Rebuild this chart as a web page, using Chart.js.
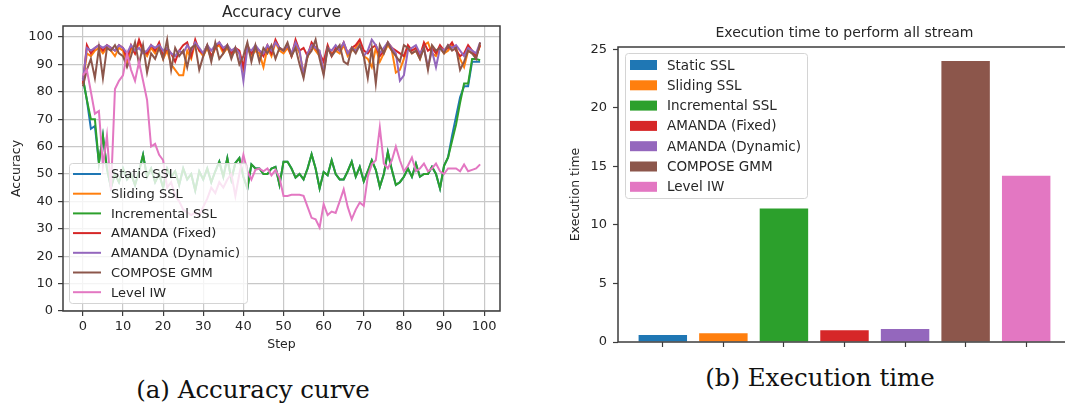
<!DOCTYPE html>
<html>
<head>
<meta charset="utf-8">
<script src="https://cdn.jsdelivr.net/npm/chart.js@4.4.1/dist/chart.umd.min.js"></script>
<style>
  html, body { margin: 0; padding: 0; background: #fff; width: 1065px; height: 410px; overflow: hidden; }
  #accWrap { position: absolute; left: 0; top: 0; width: 530px; height: 360px; }
  #timeWrap { position: absolute; left: 530px; top: 0; width: 560px; height: 360px; }
  .caption { position: absolute; width: 400px; text-align: center; white-space: nowrap;
             font-family: 'DejaVu Serif', serif; font-size: 24.5px; line-height: 26px; color: #111; }
</style>
</head>
<body>
<div id="accWrap"><canvas id="accChart" width="530" height="360"></canvas></div>
<div id="timeWrap"><canvas id="timeChart" width="560" height="360"></canvas></div>
<div class="caption" style="left:53px; top:377px;">(a) Accuracy curve</div>
<div class="caption" style="left:620px; top:365px;">(b) Execution time</div>
<script>
(function () {
  'use strict';

  var methods = ['Static SSL', 'Sliding SSL', 'Incremental SSL', 'AMANDA (Fixed)', 'AMANDA (Dynamic)', 'COMPOSE GMM', 'Level IW'];
  var colors = ['#1f77b4', '#ff7f0e', '#2ca02c', '#d62728', '#9467bd', '#8c564b', '#e377c2'];

  var staticSSL = [
    85, 77, 66.5, 67.5, 54, 64, 52, 45, 50, 47,
    52, 48, 50, 46, 51, 57, 49, 52, 47, 50,
    45, 52, 49, 51, 46, 52, 48, 50, 44, 51,
    48, 52, 47, 51, 54.5, 49, 55.8, 48, 54, 55.8,
    49, 44.7, 53.5, 52, 52, 50, 50, 52, 52.6, 46,
    54.5, 54.5, 52, 48.7, 50, 48, 52, 57.2, 52, 44.7,
    50.7, 49.5, 55, 50, 48, 48, 51, 54.5, 49, 52.6,
    47.3, 51, 55, 51.5, 45.3, 50, 58, 51.5, 46, 47,
    49, 52, 49, 53.8, 49, 50, 50, 52.6, 50, 44.7,
    53, 56, 64, 71, 78, 82, 82, 91, 91, 91
  ];
  var slidingSSL = [
    83, 94, 93, 95, 96, 94, 96, 95, 93, 96,
    95, 90, 96, 94, 98, 95, 93, 96, 94, 97,
    92, 95, 90, 88, 86, 86, 95, 92, 98, 95,
    93, 96, 92, 96, 97, 94, 96, 93, 95, 94,
    88, 96, 93, 95, 94, 89, 96, 93, 98, 95,
    94, 96, 93, 97, 94, 87, 93, 97, 95, 93,
    88, 96, 94, 95, 94, 97, 93, 95, 96, 98,
    93, 92, 89, 96, 91, 94, 97, 95, 87, 88,
    92, 96, 94, 95, 92, 97, 98, 94, 93, 96,
    94, 95, 97, 96, 92, 89, 95, 94, 93, 97
  ];
  var incrementalSSL = [
    85, 77, 70, 70, 54, 64, 52, 45, 50, 47,
    52, 48, 50, 46, 51, 57, 49, 52, 47, 50,
    45, 52, 49, 51, 46, 52, 48, 50, 44, 51,
    48, 52, 47, 51, 54.5, 49, 55.8, 48, 54, 55.8,
    49, 44.7, 53.5, 52, 52, 50, 50, 52, 52.6, 46,
    54.5, 54.5, 52, 48.7, 50, 48, 52, 57.2, 52, 44.7,
    50.7, 49.5, 55, 50, 48, 48, 51, 54.5, 49, 52.6,
    47.3, 51, 55, 51.5, 45.3, 50, 58, 51.5, 46, 47,
    49, 52, 49, 53.8, 49, 50, 50, 52.6, 50, 44.7,
    53, 56, 62, 68, 76, 83, 83, 92, 92, 91.5
  ];
  var amandaFixed = [
    83, 97, 94, 96, 97, 95, 97, 96, 95, 97,
    96, 92, 97, 94, 99, 95, 94, 97, 95, 98,
    93, 96, 94, 91, 95, 97, 98, 93, 99, 95,
    94, 97, 93, 96, 98, 95, 97, 94, 96, 95,
    89, 97, 94, 96, 95, 93, 97, 94, 99, 96,
    95, 97, 93, 99, 95, 96, 93, 98, 96, 94,
    91, 97, 93, 96, 95, 98, 94, 96, 97, 99,
    95, 94, 96, 97, 93, 95, 98, 96, 95, 94,
    93, 97, 95, 96, 93, 98, 95, 96, 94, 97,
    95, 96, 98, 95, 93, 94, 97, 95, 93, 97
  ];
  var amandaDynamic = [
    84, 96, 95, 96, 97, 96, 97, 96, 95, 97,
    96, 94, 97, 95, 96, 94, 95, 97, 96, 97,
    95, 96, 94, 93, 95, 94, 97, 95, 98, 96,
    94, 97, 95, 97, 98, 96, 97, 95, 96, 94,
    84, 96, 95, 97, 95, 94, 97, 95, 98, 96,
    95, 97, 94, 98, 95, 86, 94, 97, 96, 95,
    87, 96, 95, 97, 95, 98, 94, 96, 95, 97,
    93, 95, 99, 97, 94, 96, 98, 96, 94, 84,
    86, 95, 96, 97, 94, 96, 89, 95, 89, 96,
    95, 97, 96, 97, 95, 93, 96, 95, 94, 98
  ];
  var composeGMM = [
    82, 88, 92, 85, 96, 85, 96, 95, 97, 94,
    93, 89, 93, 98, 90, 97, 87, 94, 92, 96,
    92, 99, 88, 96, 93, 95, 89, 96, 97, 88,
    93, 97, 91, 98, 92, 94, 97, 92, 96, 90,
    93, 98, 91, 97, 91, 96, 94, 97, 92, 96,
    95, 98, 93, 96, 90, 85, 93, 95, 99, 92,
    86, 96, 93, 95, 97, 91, 90, 96, 94, 97,
    93, 85, 96, 83, 97, 94, 98, 95, 93, 91,
    97, 96, 94, 95, 92, 96, 88, 97, 95, 96,
    94, 97, 95, 96, 88, 91, 95, 94, 92, 98
  ];
  var levelIW = [
    86, 88, 80, 72, 73, 53, 64, 44, 81, 84,
    86, 94, 88, 84, 91, 84, 77, 60, 61, 57,
    55, 45, 47, 42, 40, 37, 36, 35, 36, 35,
    38, 41, 45, 43, 47, 45, 48, 50, 42, 50,
    57, 51, 48, 51.5, 52, 51, 52, 49.5, 51.5, 48.7,
    42, 42, 42.4, 42.4, 42.4, 42, 38, 34, 33.5, 30.5,
    39, 35, 36.3, 35.8, 40, 44.4, 38, 33.5, 37, 39.6,
    38.4, 49, 53.5, 55, 67, 53.8, 52, 55, 60, 55,
    51, 53, 56, 51, 52, 53.8, 51, 52, 53.8, 51,
    50, 52, 52, 52, 51, 53.5, 51, 51.5, 52, 53.5
  ];

  var execTime = [0.6, 0.75, 11.4, 1.0, 1.1, 24.0, 14.2];

  var accTicks = [0, 10, 20, 30, 40, 50, 60, 70, 80, 90, 100];
  var stepTicks = [0, 10, 20, 30, 40, 50, 60, 70, 80, 90, 100];
  var timeTicks = [0, 5, 10, 15, 20, 25];

  var series = [staticSSL, slidingSSL, incrementalSSL, amandaFixed, amandaDynamic, composeGMM, levelIW];

  var FONT = "'DejaVu Sans', sans-serif";
  var TEXT = '#262626';
  var SPINE = '#3c3c3c';

  function roundRect(ctx, x, y, w, h, r) {
    ctx.beginPath();
    ctx.moveTo(x + r, y);
    ctx.lineTo(x + w - r, y);
    ctx.arcTo(x + w, y, x + w, y + r, r);
    ctx.lineTo(x + w, y + h - r);
    ctx.arcTo(x + w, y + h, x + w - r, y + h, r);
    ctx.lineTo(x + r, y + h);
    ctx.arcTo(x, y + h, x, y + h - r, r);
    ctx.lineTo(x, y + r);
    ctx.arcTo(x, y, x + r, y, r);
    ctx.closePath();
  }

  // cadre, titres et légende façon matplotlib
  var decor = {
    id: 'decor',
    afterDraw: function (chart, args, o) {
      var ctx = chart.ctx;
      var a = chart.chartArea;
      ctx.save();

      ctx.strokeStyle = SPINE;
      ctx.lineWidth = 1.5;
      ctx.strokeRect(a.left, a.top, a.right - a.left, a.bottom - a.top);

      ctx.fillStyle = TEXT;
      ctx.textAlign = 'center';
      ctx.textBaseline = 'middle';
      ctx.font = o.titleSize + 'px ' + FONT;
      ctx.fillText(o.title, (a.left + a.right) / 2, o.titleY);

      ctx.font = '12.5px ' + FONT;
      if (o.xLabel) ctx.fillText(o.xLabel, (a.left + a.right) / 2, o.xLabelY);
      ctx.save();
      ctx.translate(o.yLabelX, (a.top + a.bottom) / 2);
      ctx.rotate(-Math.PI / 2);
      ctx.fillText(o.yLabel, 0, 0);
      ctx.restore();

      var L = o.legend;
      roundRect(ctx, L.x + 0.5, L.y + 0.5, L.w, L.h, 3);
      ctx.fillStyle = 'rgba(255,255,255,0.8)';
      ctx.fill();
      ctx.strokeStyle = '#d4d4d4';
      ctx.lineWidth = 1;
      ctx.stroke();

      ctx.font = L.fontSize + 'px ' + FONT;
      ctx.textAlign = 'left';
      methods.forEach(function (name, i) {
        var cy = L.firstY + i * L.gap;
        if (L.kind === 'line') {
          ctx.strokeStyle = colors[i];
          ctx.lineWidth = 2;
          ctx.beginPath();
          ctx.moveTo(L.handleX, cy);
          ctx.lineTo(L.handleX + L.handleW, cy);
          ctx.stroke();
        } else {
          ctx.fillStyle = colors[i];
          ctx.fillRect(L.handleX, cy - 5, L.handleW, 10);
        }
        ctx.fillStyle = TEXT;
        ctx.fillText(name, L.textX, cy + 1);
      });

      ctx.restore();
    }
  };

  function fixedTicks(list) {
    return function (scale) {
      scale.ticks = list.map(function (v) { return { value: v }; });
    };
  }

  var steps = staticSSL.map(function (_, i) { return i; });

  new Chart(document.getElementById('accChart'), {
    type: 'line',
    plugins: [decor],
    data: {
      datasets: series.map(function (vals, i) {
        return {
          label: methods[i],
          data: vals.map(function (v, k) { return { x: steps[k], y: v }; }),
          borderColor: colors[i],
          backgroundColor: colors[i],
          borderWidth: 2,
          pointRadius: 0,
          tension: 0,
          order: series.length - 1 - i
        };
      })
    },
    options: {
      responsive: false,
      animation: false,
      events: [],
      layout: { padding: { left: 0, right: 30, top: 26, bottom: 0 } },
      plugins: {
        legend: { display: false },
        tooltip: { enabled: false },
        decor: {
          title: 'Accuracy curve', titleY: 13, titleSize: 15.5,
          xLabel: 'Step', xLabelY: 345,
          yLabel: 'Accuracy', yLabelX: 17,
          legend: { kind: 'line', x: 69, y: 163, w: 178, h: 140, firstY: 174, gap: 19.7,
                    handleX: 73, handleW: 28, textX: 111, fontSize: 13 }
        }
      },
      scales: {
        x: {
          type: 'linear', min: -4.95, max: 103.95,
          afterBuildTicks: fixedTicks(stepTicks),
          afterFit: function (s) { s.height = 49; s.paddingLeft = 0; s.paddingRight = 0; },
          border: { display: false },
          grid: { color: '#c8c8c8', lineWidth: 1.2, tickColor: SPINE, tickLength: 5, tickWidth: 1.2 },
          ticks: { color: TEXT, font: { family: FONT, size: 13 }, padding: 3, maxRotation: 0 }
        },
        y: {
          min: 0, max: 104,
          afterBuildTicks: fixedTicks(accTicks),
          afterFit: function (s) { s.width = 63; s.paddingTop = 0; s.paddingBottom = 0; },
          border: { display: false },
          grid: { color: '#c8c8c8', lineWidth: 1.2, tickColor: SPINE, tickLength: 5, tickWidth: 1.2 },
          ticks: { color: TEXT, font: { family: FONT, size: 13 }, padding: 5 }
        }
      }
    }
  });

  new Chart(document.getElementById('timeChart'), {
    type: 'bar',
    plugins: [decor],
    data: {
      datasets: [{
        label: 'Execution time',
        data: execTime.map(function (v, i) { return { x: i, y: v }; }),
        backgroundColor: colors,
        borderWidth: 0,
        categoryPercentage: 0.8,
        barPercentage: 1
      }]
    },
    options: {
      responsive: false,
      animation: false,
      events: [],
      layout: { padding: { left: 0, right: 19, top: 47, bottom: 0 } },
      plugins: {
        legend: { display: false },
        tooltip: { enabled: false },
        decor: {
          title: 'Execution time to perform all stream', titleY: 33, titleSize: 14,
          xLabel: '', xLabelY: 0,
          yLabel: 'Execution time', yLabelX: 46,
          legend: { kind: 'patch', x: 95, y: 53, w: 182, h: 145, firstY: 65, gap: 20.3,
                    handleX: 100, handleW: 27, textX: 137, fontSize: 13.5 }
        }
      },
      scales: {
        x: {
          type: 'linear', min: -0.74, max: 6.74, offset: false,
          afterBuildTicks: fixedTicks(methods.map(function (_, i) { return i; })),
          afterFit: function (s) { s.height = 18; s.paddingLeft = 0; s.paddingRight = 0; },
          border: { display: false },
          grid: { offset: false, drawOnChartArea: false, drawTicks: true, tickColor: SPINE, tickLength: 5, tickWidth: 1.2 },
          ticks: { display: false }
        },
        y: {
          min: 0, max: 25.2,
          afterBuildTicks: fixedTicks(timeTicks),
          afterFit: function (s) { s.width = 88; s.paddingTop = 0; s.paddingBottom = 0; },
          border: { display: false },
          grid: { drawOnChartArea: false, tickColor: SPINE, tickLength: 5, tickWidth: 1.2 },
          ticks: { color: TEXT, font: { family: FONT, size: 13 }, padding: 6 }
        }
      }
    }
  });
})();
</script>
</body>
</html>
